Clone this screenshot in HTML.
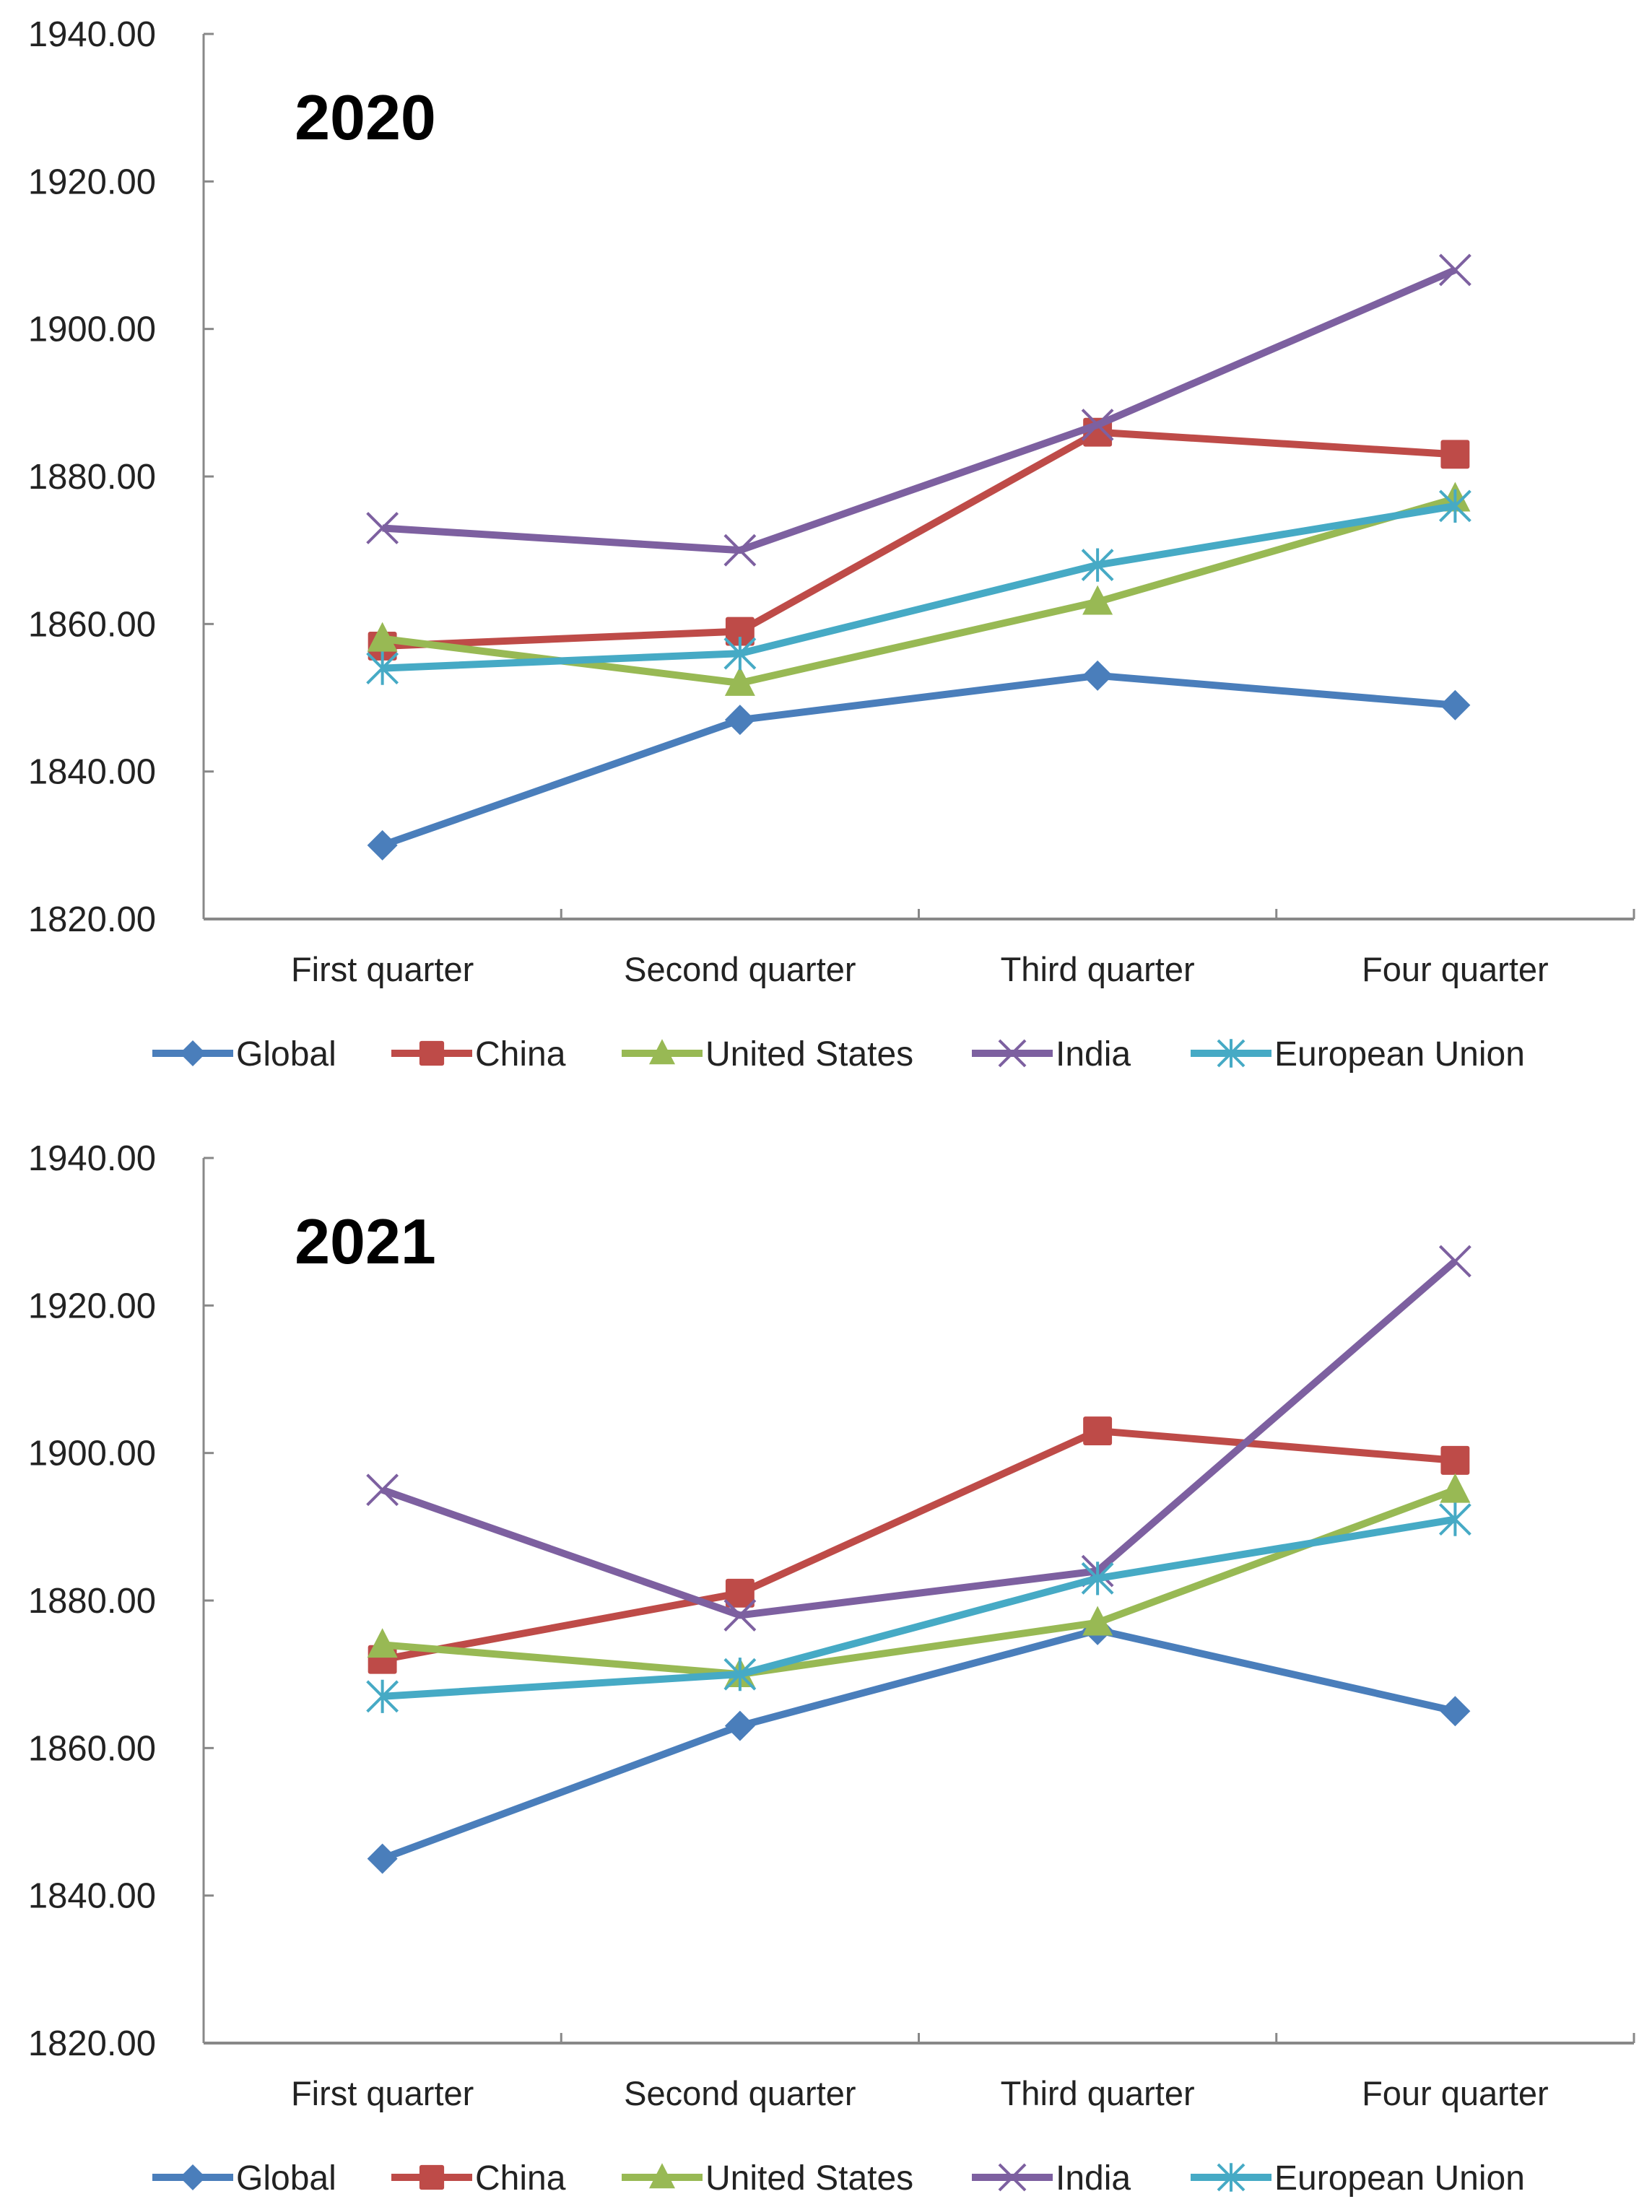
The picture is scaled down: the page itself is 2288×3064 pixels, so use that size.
<!DOCTYPE html>
<html><head><meta charset="utf-8">
<style>
html,body{margin:0;padding:0;background:#fff;}
svg{display:block;font-family:"Liberation Sans",sans-serif;}
</style></head>
<body>
<svg id="chart" width="2288" height="3064" viewBox="0 0 2288 3064" xmlns="http://www.w3.org/2000/svg"></svg>
<script>
const categories = ["First quarter","Second quarter","Third quarter","Four quarter"];
const seriesNames = ["Global","China","United States","India","European Union"];
const yTicks = [1820,1840,1860,1880,1900,1920,1940];
const panelYears = ["2020","2021"];
const global2020 = [1830,1847,1853,1849];
const china2020  = [1857,1859,1886,1883];
const us2020     = [1858,1852,1863,1877];
const india2020  = [1873,1870,1887,1908];
const eu2020     = [1854,1856,1868,1876];
const global2021 = [1845,1863,1876,1865];
const china2021  = [1872,1881,1903,1899];
const us2021     = [1874,1870,1877,1895];
const india2021  = [1895,1878,1884,1926];
const eu2021     = [1867,1870,1883,1891];

const colors = ["#4a7ebb","#be4b48","#98b954","#7d60a0","#46aac5"];
const markers = ["diamond","square","triangle","x","star"];
const svg = document.getElementById('chart');
const NS = "http://www.w3.org/2000/svg";
function mk(tag, attrs, parent){
  const e = document.createElementNS(NS, tag);
  for (const k in attrs) e.setAttribute(k, attrs[k]);
  (parent||svg).appendChild(e);
  return e;
}
const X0 = 282, X1 = 2263;
function xPos(i){ return X0 + (X1-X0)/categories.length*(i+0.5); }

function drawMarker(g, type, cx, cy, color, s){
  if (type==="diamond") mk('polygon',{points:`${cx},${cy-s} ${cx+s},${cy} ${cx},${cy+s} ${cx-s},${cy}`,fill:color},g);
  else if (type==="square") mk('rect',{x:cx-s*0.95,y:cy-s*0.95,width:s*1.9,height:s*1.9,rx:3,fill:color},g);
  else if (type==="triangle") mk('polygon',{points:`${cx},${cy-s*1.1} ${cx+s},${cy+s*0.85} ${cx-s},${cy+s*0.85}`,fill:color},g);
  else if (type==="x") mk('path',{d:`M${cx-s},${cy-s}L${cx+s},${cy+s}M${cx-s},${cy+s}L${cx+s},${cy-s}`,stroke:color,'stroke-width':4,fill:'none'},g);
  else { mk('path',{d:`M${cx-s},${cy-s}L${cx+s},${cy+s}M${cx-s},${cy+s}L${cx+s},${cy-s}M${cx},${cy-s*1.1}L${cx},${cy+s*1.1}`,stroke:color,'stroke-width':4,fill:'none'},g); }
}

function drawPanel(p, top, bottom, data){
  const g = mk('g',{});
  
  
  const yMin = yTicks[0], yMax = yTicks[yTicks.length-1];
  const yPos = v => bottom - (v-yMin)/(yMax-yMin)*(bottom-top);
  const ya = mk('line',{x1:X0,y1:top,x2:X0,y2:bottom,stroke:'#888','stroke-width':3},g);
   
  const xa = mk('line',{x1:X0,y1:bottom,x2:X1,y2:bottom,stroke:'#888','stroke-width':4},g);
   
  yTicks.forEach(t=>{
    const y = yPos(t);
    mk('line',{x1:X0,y1:y,x2:X0+14,y2:y,stroke:'#888','stroke-width':3},g);
    const tx = mk('text',{x:216,y:y+17,'text-anchor':'end','font-size':49,fill:'#222'},g);
    tx.textContent = t.toFixed(2);
    
    
  });
  for (let i=0;i<=categories.length;i++){
    const x = X0 + (X1-X0)/categories.length*i;
    mk('line',{x1:x,y1:bottom,x2:x,y2:bottom-14,stroke:'#888','stroke-width':3},g);
  }
  categories.forEach((c,i)=>{
    const tx = mk('text',{x:xPos(i),y:bottom+86,'text-anchor':'middle','font-size':47,fill:'#222'},g);
    tx.textContent = c;
    
    
  });
  const title = mk('text',{x:506,y:top+146,'text-anchor':'middle','font-size':88,'font-weight':'bold',fill:'#000'},g);
  title.textContent = panelYears[p];
  
  
  data.forEach((vals,s)=>{
    const sg = mk('g',{},g);
    
    
    const pts = vals.map((v,i)=>xPos(i)+','+yPos(v)).join(' ');
    mk('polyline',{points:pts,fill:'none',stroke:colors[s],'stroke-width':10,'stroke-linejoin':'round'},sg);
    vals.forEach((v,i)=>drawMarker(sg,markers[s],xPos(i),yPos(v),colors[s],21));
  });
  const ly = bottom + 186;
  const lx = [211,542,861,1346,1649];
  seriesNames.forEach((n,s)=>{
    const lg = mk('g',{},g);
    
    
    mk('line',{x1:lx[s],y1:ly,x2:lx[s]+112,y2:ly,stroke:colors[s],'stroke-width':10},lg);
    drawMarker(lg,markers[s],lx[s]+56,ly,colors[s],18);
    const t = mk('text',{x:lx[s]+116,y:ly+17,'font-size':48,fill:'#222'},lg);
    t.textContent = n;
  });
}
drawPanel(0, 47, 1273, [global2020,china2020,us2020,india2020,eu2020]);
drawPanel(1, 1604, 2830, [global2021,china2021,us2021,india2021,eu2021]);
</script>
</body></html>
